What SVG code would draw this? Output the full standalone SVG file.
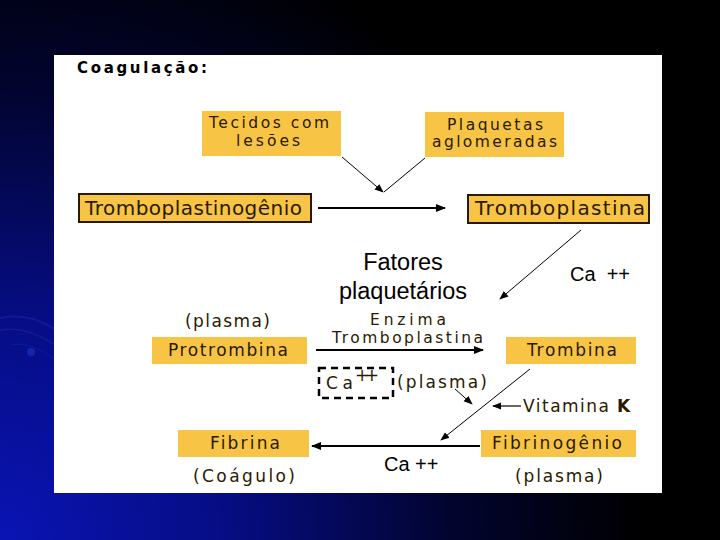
<svg xmlns="http://www.w3.org/2000/svg" width="720" height="540" viewBox="0 0 720 540">
<defs>
<radialGradient id="bg" cx="0" cy="540" r="640" gradientUnits="userSpaceOnUse">
<stop offset="0" stop-color="#0a14b4"/>
<stop offset="0.35" stop-color="#060d84"/>
<stop offset="0.7" stop-color="#020430"/>
<stop offset="1" stop-color="#000000"/>
</radialGradient>
<marker id="ah" viewBox="0 0 10 10" refX="9" refY="5" markerWidth="10" markerHeight="10" markerUnits="userSpaceOnUse" orient="auto">
<path d="M0,1 L10,5 L0,9 z" fill="#000"/>
</marker>
<marker id="ahs" viewBox="0 0 10 10" refX="9" refY="5" markerWidth="9" markerHeight="9" markerUnits="userSpaceOnUse" orient="auto">
<path d="M0,1 L10,5 L0,9 z" fill="#000"/>
</marker>
</defs>
<style>
.box{fill:#f7c446}
.bb{fill:#f7c446;stroke:#2a1800;stroke-width:2}
.t{font-family:"DejaVu Sans","Liberation Sans",sans-serif;font-size:17px;fill:#2a1a00}
.s{font-size:15.5px}
.tl{font-family:"DejaVu Sans","Liberation Sans",sans-serif;font-size:20px;fill:#2a1a00}
.a{font-family:"Liberation Sans",Arial,sans-serif;fill:#000}
.ln{stroke:#000;fill:none}
</style>
<rect width="720" height="540" fill="url(#bg)"/>
<g fill="none" stroke="#1a2aa0" stroke-opacity="0.5">
<path d="M0,318 Q30,312 56,330" stroke-width="2"/>
<path d="M0,330 Q28,326 56,346" stroke-width="1.5"/>
<path d="M10,345 Q30,340 56,360" stroke-width="1"/>
</g>
<circle cx="31" cy="352" r="4" fill="#1a30c0" opacity="0.7"/>
<rect x="54" y="55" width="608" height="438" fill="#ffffff"/>
<text x="77" y="73" font-family="'DejaVu Sans','Liberation Sans',sans-serif" font-size="15" font-weight="bold" fill="#000" textLength="130" lengthAdjust="spacing">Coagulação:</text>

<g id="connectors">
<line class="ln" x1="342" y1="157" x2="383" y2="192" stroke-width="1" marker-end="url(#ahs)"/>
<line class="ln" x1="425" y1="158" x2="384" y2="192" stroke-width="1"/>
<line class="ln" x1="318" y1="208" x2="445" y2="208" stroke-width="2" marker-end="url(#ah)"/>
<line class="ln" x1="581" y1="230" x2="500" y2="299" stroke-width="1" marker-end="url(#ahs)"/>
<line class="ln" x1="316" y1="350" x2="483" y2="350" stroke-width="2" marker-end="url(#ah)"/>
<line class="ln" x1="530" y1="369" x2="441" y2="440" stroke-width="1" marker-end="url(#ahs)"/>
<line class="ln" x1="455" y1="389" x2="472" y2="404" stroke-width="1" marker-end="url(#ahs)"/>
<line class="ln" x1="521" y1="406" x2="493" y2="406" stroke-width="1.2" marker-end="url(#ahs)"/>
<line class="ln" x1="480" y1="446" x2="312" y2="446" stroke-width="2" marker-end="url(#ah)"/>
</g>

<g id="tecidos">
<rect class="box" x="202" y="111" width="139" height="45"/>
<text class="t s" x="209" y="128" textLength="120" lengthAdjust="spacing">Tecidos com</text>
<text class="t s" x="236" y="146" textLength="64" lengthAdjust="spacing">lesões</text>
</g>
<g id="plaquetas">
<rect class="box" x="425" y="112" width="139" height="45"/>
<text class="t s" x="447" y="130" textLength="96" lengthAdjust="spacing">Plaquetas</text>
<text class="t s" x="432" y="147" textLength="125" lengthAdjust="spacing">aglomeradas</text>
</g>
<g id="tromboplastinogenio">
<rect class="bb" x="79" y="194" width="232" height="28"/>
<text class="tl" x="85" y="215" textLength="217" lengthAdjust="spacing">Tromboplastinogênio</text>
</g>
<g id="tromboplastina">
<rect class="bb" x="468" y="195" width="181" height="28"/>
<text class="tl" x="475" y="215" textLength="170" lengthAdjust="spacing">Tromboplastina</text>
</g>
<g id="fatores">
<text class="a" x="403" y="270" font-size="23.5" text-anchor="middle">Fatores</text>
<text class="a" x="403" y="299" font-size="23.5" text-anchor="middle">plaquetários</text>
</g>
<text class="a" x="570" y="281" font-size="20" xml:space="preserve">Ca  ++</text>
<g id="protrombina">
<text class="t" x="185" y="327" textLength="85" lengthAdjust="spacing">(plasma)</text>
<rect class="box" x="152" y="337" width="155" height="27"/>
<text class="t" x="168" y="356" textLength="120" lengthAdjust="spacing">Protrombina</text>
</g>
<g id="enzima">
<text class="t s" x="370" y="325" textLength="76" lengthAdjust="spacing">Enzima</text>
<text class="t s" x="332" y="343" textLength="151" lengthAdjust="spacing">Tromboplastina</text>
</g>
<g id="trombina">
<rect class="box" x="506" y="337" width="130" height="27"/>
<text class="t" x="527" y="356" textLength="90" lengthAdjust="spacing">Trombina</text>
</g>
<g id="calcio">
<rect x="319" y="368" width="74" height="30" fill="none" stroke="#000" stroke-width="2.5" stroke-dasharray="7,5"/>
<text class="t" x="326" y="389" textLength="27" lengthAdjust="spacing">Ca</text>
<text class="t" x="355" y="381" font-size="14" textLength="24" lengthAdjust="spacing">++</text>
<text class="t" x="397" y="388" textLength="90" lengthAdjust="spacing">(plasma)</text>
</g>
<g id="vitamina">
<text class="t" x="523" y="412" textLength="86" lengthAdjust="spacing">Vitamina</text>
<text class="t" x="617" y="412" font-weight="bold">K</text>
</g>
<g id="fibrina">
<rect class="box" x="178" y="430" width="131" height="27"/>
<text class="t" x="210" y="449" textLength="70" lengthAdjust="spacing">Fibrina</text>
<text class="t" x="193" y="482" textLength="102" lengthAdjust="spacing">(Coágulo)</text>
</g>
<g id="fibrinogenio">
<rect class="box" x="481" y="430" width="155" height="27"/>
<text class="t" x="492" y="449" textLength="130" lengthAdjust="spacing">Fibrinogênio</text>
<text class="t" x="515" y="482" textLength="88" lengthAdjust="spacing">(plasma)</text>
</g>
<text class="a" x="384" y="471" font-size="20">Ca ++</text>
</svg>
